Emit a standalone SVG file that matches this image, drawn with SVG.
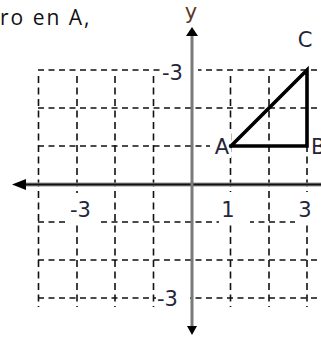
<svg xmlns="http://www.w3.org/2000/svg" width="321" height="337" viewBox="0 0 321 337">
<style>
.grid line{stroke:#111;stroke-width:1.6;fill:none}
.h{stroke-dasharray:6 4.5}
.v{stroke-dasharray:7 4.5}
.lbl{font-family:"DejaVu Sans",Verdana,sans-serif;font-size:21px;fill:#25253a}
.bg{fill:#fff}
.tri{stroke:#000;stroke-width:3.6;fill:none;stroke-linejoin:miter;stroke-linecap:square}
</style>
<rect width="321" height="337" fill="#fff"/>
<text x="0" y="25" font-family="'Open Sans',sans-serif" font-size="21" letter-spacing="2" fill="#111">ro en A,</text>
<g id="grid" class="grid">
<line class="h" x1="38" y1="70" x2="321" y2="70"/>
<line class="h" x1="38" y1="108" x2="321" y2="108"/>
<line class="h" x1="38" y1="146" x2="321" y2="146"/>
<line class="h" x1="38" y1="222" x2="321" y2="222"/>
<line class="h" x1="38" y1="260" x2="321" y2="260"/>
<line class="h" x1="38" y1="298" x2="321" y2="298"/>
<line class="v" x1="38.5" y1="76" x2="38.5" y2="307"/>
<line class="v" x1="77" y1="76" x2="77" y2="307"/>
<line class="v" x1="115" y1="76" x2="115" y2="307"/>
<line class="v" x1="153.5" y1="76" x2="153.5" y2="307"/>
<line class="v" x1="230.5" y1="76" x2="230.5" y2="307"/>
<line class="v" x1="269" y1="76" x2="269" y2="307"/>
<line class="v" x1="307" y1="76" x2="307" y2="307"/>
</g>
<g id="label-boxes">
<rect class="bg" x="160" y="60" width="38" height="24"/>
<rect class="bg" x="68" y="193" width="29" height="32"/>
<rect class="bg" x="219" y="192" width="31" height="33"/>
<rect class="bg" x="295" y="192" width="26" height="33"/>
<rect class="bg" x="156" y="288" width="34" height="22"/>
<rect class="bg" x="210" y="133" width="21" height="25"/>
<rect class="bg" x="311" y="133" width="10" height="25"/>
</g>
<g id="connectors">
<g id="x-axis">
<line x1="22" y1="184.5" x2="321" y2="184.5" stroke="#9a9a9a" stroke-width="4"/>
<line x1="22" y1="184.5" x2="321" y2="184.5" stroke="#111" stroke-width="2"/>
<polygon points="12,184.5 26,179 26,190" fill="#000"/>
</g>
<g id="y-axis">
<line x1="192" y1="34" x2="192" y2="329" stroke="#7a7a7a" stroke-width="3"/>
<polygon points="192,27 186,36 198,36" fill="#000"/>
<polygon points="192,335 187,326 197,326" fill="#000"/>
</g>
<g id="triangle-edges">
<polyline class="tri" points="231,146 307,146 307,70 231,146"/>
</g>
</g>
<g id="axis-labels" class="lbl">
<text x="191" y="19" text-anchor="middle" fill="#5a3a2a">y</text>
<text x="183" y="80" text-anchor="end">-3</text>
<text x="91" y="217" text-anchor="end">-3</text>
<text x="228" y="217" text-anchor="middle">1</text>
<text x="305" y="217" text-anchor="middle">3</text>
<text x="178" y="306" text-anchor="end">-3</text>
</g>
<g id="node-A"><text class="lbl" x="229" y="154" text-anchor="end">A</text></g>
<g id="node-B"><text class="lbl" x="311" y="154">B</text></g>
<g id="node-C"><text class="lbl" x="305" y="47" text-anchor="middle">C</text></g>
</svg>
